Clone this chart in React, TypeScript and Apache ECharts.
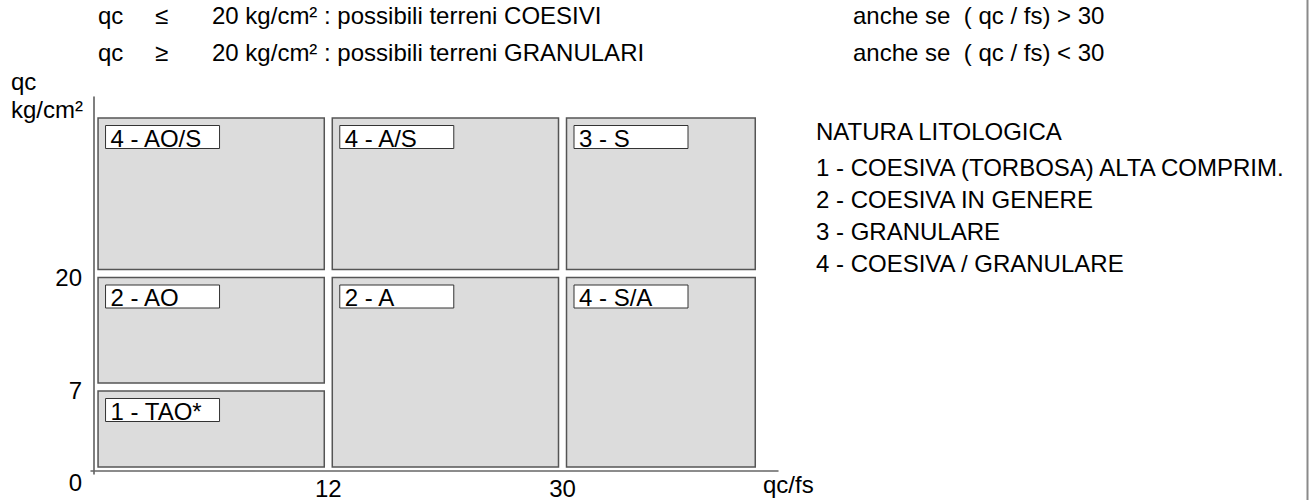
import React, { useEffect, useRef } from "react";
import * as echarts from "echarts";

// ---- data ----
const qcfsBreaks = [0, 12, 30]; // x boundaries (qc/fs)
const qcBreaks = [0, 7, 20]; // y boundaries (qc, kg/cm²)
const qcfsTickLabels = ["12", "30"];
const qcTickLabels = ["0", "7", "20"];

const cellLabels = ["4 - AO/S", "4 - A/S", "3 - S", "2 - AO", "2 - A", "4 - S/A", "1 - TAO*"];
const cellQcfsFrom = [0, 12, 30, 0, 12, 30, 0];
const cellQcfsTo: (number | null)[] = [12, 30, null, 12, 30, null, 12];
const cellQcFrom = [20, 20, 20, 7, 0, 0, 0];
const cellQcTo: (number | null)[] = [null, null, null, 20, 20, 20, 7];

const headerLeft = ["qc", "qc"];
const headerSign = ["≤", "≥"];
const headerText = [
  "20 kg/cm² : possibili terreni COESIVI",
  "20 kg/cm² : possibili terreni GRANULARI",
];
const headerRight = ["anche se  ( qc / fs) > 30", "anche se  ( qc / fs) < 30"];

const legendTitle = "NATURA LITOLOGICA";
const legendItems = [
  "1 - COESIVA (TORBOSA) ALTA COMPRIM.",
  "2 - COESIVA IN GENERE",
  "3 - GRANULARE",
  "4 - COESIVA / GRANULARE",
];

// ---- schematic (non-linear) band sizes of the diagram: layout ----
const xBandSizes = [1, 1, 0.84];
const yBandSizes = [0.84, 1.135, 1.595];

function warp(v: number | null, breaks: number[], sizes: number[]): number {
  const total = sizes.reduce((a, b) => a + b, 0);
  if (v === null || !isFinite(v)) return total;
  let acc = 0;
  for (let i = 0; i < breaks.length; i++) {
    const lo = breaks[i];
    const hi = i + 1 < breaks.length ? breaks[i + 1] : null;
    if (hi === null || v < hi) {
      if (hi === null) return acc;
      return acc + ((v - lo) / (hi - lo)) * sizes[i];
    }
    acc += sizes[i];
  }
  return total;
}

const FONT = "'Liberation Sans', Arial, Helvetica, sans-serif";
const FS = 24;

export default function App() {
  const ref = useRef<HTMLDivElement>(null);
  useEffect(() => {
    if (!ref.current) return;
    const chart = echarts.init(ref.current, null, { renderer: "svg" });

    const data = cellLabels.map((_, i) => [
      warp(cellQcfsFrom[i], qcfsBreaks, xBandSizes),
      warp(cellQcfsTo[i], qcfsBreaks, xBandSizes),
      warp(cellQcFrom[i], qcBreaks, yBandSizes),
      warp(cellQcTo[i], qcBreaks, yBandSizes),
    ]);

    const xTickPos = qcfsBreaks.slice(1).map((b) => warp(b, qcfsBreaks, xBandSizes));
    const yTickPos = qcBreaks.map((b) => warp(b, qcBreaks, yBandSizes));

    const textBase = { fontFamily: FONT, fontSize: FS, fill: "#000" };

    const graphics: any[] = [];
    for (let r = 0; r < 2; r++) {
      const y = r === 0 ? 15 : 52;
      graphics.push(
        { type: "text", x: 98, y, style: { ...textBase, text: headerLeft[r], verticalAlign: "middle" } },
        { type: "text", x: 155, y, style: { ...textBase, text: headerSign[r], verticalAlign: "middle" } },
        { type: "text", x: 212, y, style: { ...textBase, text: headerText[r], verticalAlign: "middle" } },
        { type: "text", x: 853, y, style: { ...textBase, text: headerRight[r], verticalAlign: "middle" } }
      );
    }
    graphics.push(
      { type: "text", x: 11, y: 81, style: { ...textBase, text: "qc", verticalAlign: "middle" } },
      { type: "text", x: 11, y: 109, style: { ...textBase, text: "kg/cm²", verticalAlign: "middle" } }
    );
    graphics.push({ type: "text", x: 816, y: 131, style: { ...textBase, text: legendTitle, verticalAlign: "middle" } });
    const legendY = [167, 199, 231, 263];
    legendItems.forEach((t, i) =>
      graphics.push({ type: "text", x: 816, y: legendY[i], style: { ...textBase, text: t, verticalAlign: "middle" } })
    );
    graphics.push({
      type: "line",
      shape: { x1: 1307.5, y1: 0, x2: 1307.5, y2: 500 },
      style: { stroke: "#8a8a8a", lineWidth: 2 },
    });

    chart.setOption({
      animation: false,
      grid: { left: 91, right: 1309 - 778, top: 97, bottom: 26, containLabel: false },
      xAxis: {
        type: "value",
        min: -0.013,
        max: 2.92,
        splitLine: { show: false },
        axisTick: { show: false },
        axisLine: { show: true, lineStyle: { color: "#666", width: 1.5 } },
        axisLabel: {
          customValues: xTickPos,
          formatter: (v: number) => {
            const i = xTickPos.findIndex((p) => Math.abs(p - v) < 1e-6);
            return i >= 0 ? qcfsTickLabels[i] : "";
          },
          fontFamily: FONT,
          fontSize: FS,
          color: "#000",
          margin: 2,
        },
        name: "qc/fs",
        nameLocation: "end",
        nameGap: -15,
        nameTextStyle: {
          fontFamily: FONT,
          fontSize: FS,
          color: "#000",
          align: "left",
          verticalAlign: "top",
          padding: [1, 0, 0, 0],
        },
      },
      yAxis: {
        type: "value",
        min: -0.03,
        max: 3.74,
        splitLine: { show: false },
        axisTick: { show: false },
        axisLine: { show: true, lineStyle: { color: "#555", width: 1.5 } },
        axisLabel: {
          customValues: yTickPos,
          formatter: (v: number) => {
            const i = yTickPos.findIndex((p) => Math.abs(p - v) < 1e-6);
            if (i < 0) return "";
            return i === 0 ? "{z|" + qcTickLabels[i] + "}" : "{n|" + qcTickLabels[i] + "}";
          },
          fontFamily: FONT,
          fontSize: FS,
          color: "#000",
          margin: 9,
          rich: {
            z: { fontFamily: FONT, fontSize: FS, color: "#000", padding: [22, 0, 0, 0] },
            n: { fontFamily: FONT, fontSize: FS, color: "#000", padding: [7, 0, 0, 0] },
          },
        },
      },
      graphic: graphics,
      series: [
        {
          type: "custom",
          data,
          encode: { x: [0, 1], y: [2, 3] },
          renderItem: (params: any, api: any) => {
            const tl = api.coord([api.value(0), api.value(3)]);
            const br = api.coord([api.value(1), api.value(2)]);
            const x = tl[0] + 4;
            const y = tl[1] + 4;
            const w = br[0] - tl[0] - 8;
            const h = br[1] - tl[1] - 8;
            const bx = x + 7.5;
            const by = y + 7.5;
            return {
              type: "group",
              children: [
                {
                  type: "rect",
                  shape: { x, y, width: w, height: h },
                  style: { fill: "#dcdcdc", stroke: "#555", lineWidth: 1.5 },
                },
                {
                  type: "rect",
                  shape: { x: bx, y: by, width: 114, height: 23 },
                  style: { fill: "#fff", stroke: "#333", lineWidth: 1 },
                },
                {
                  type: "text",
                  x: bx + 5,
                  y: by + 12.5,
                  style: {
                    text: cellLabels[params.dataIndex],
                    fontFamily: FONT,
                    fontSize: FS,
                    fill: "#000",
                    verticalAlign: "middle",
                  },
                },
              ],
            };
          },
        },
      ],
    });
    return () => chart.dispose();
  }, []);
  return (
    <div
      ref={ref}
      style={{ position: "fixed", left: 0, top: 0, width: 1309, height: 500, background: "#fff" }}
    />
  );
}
